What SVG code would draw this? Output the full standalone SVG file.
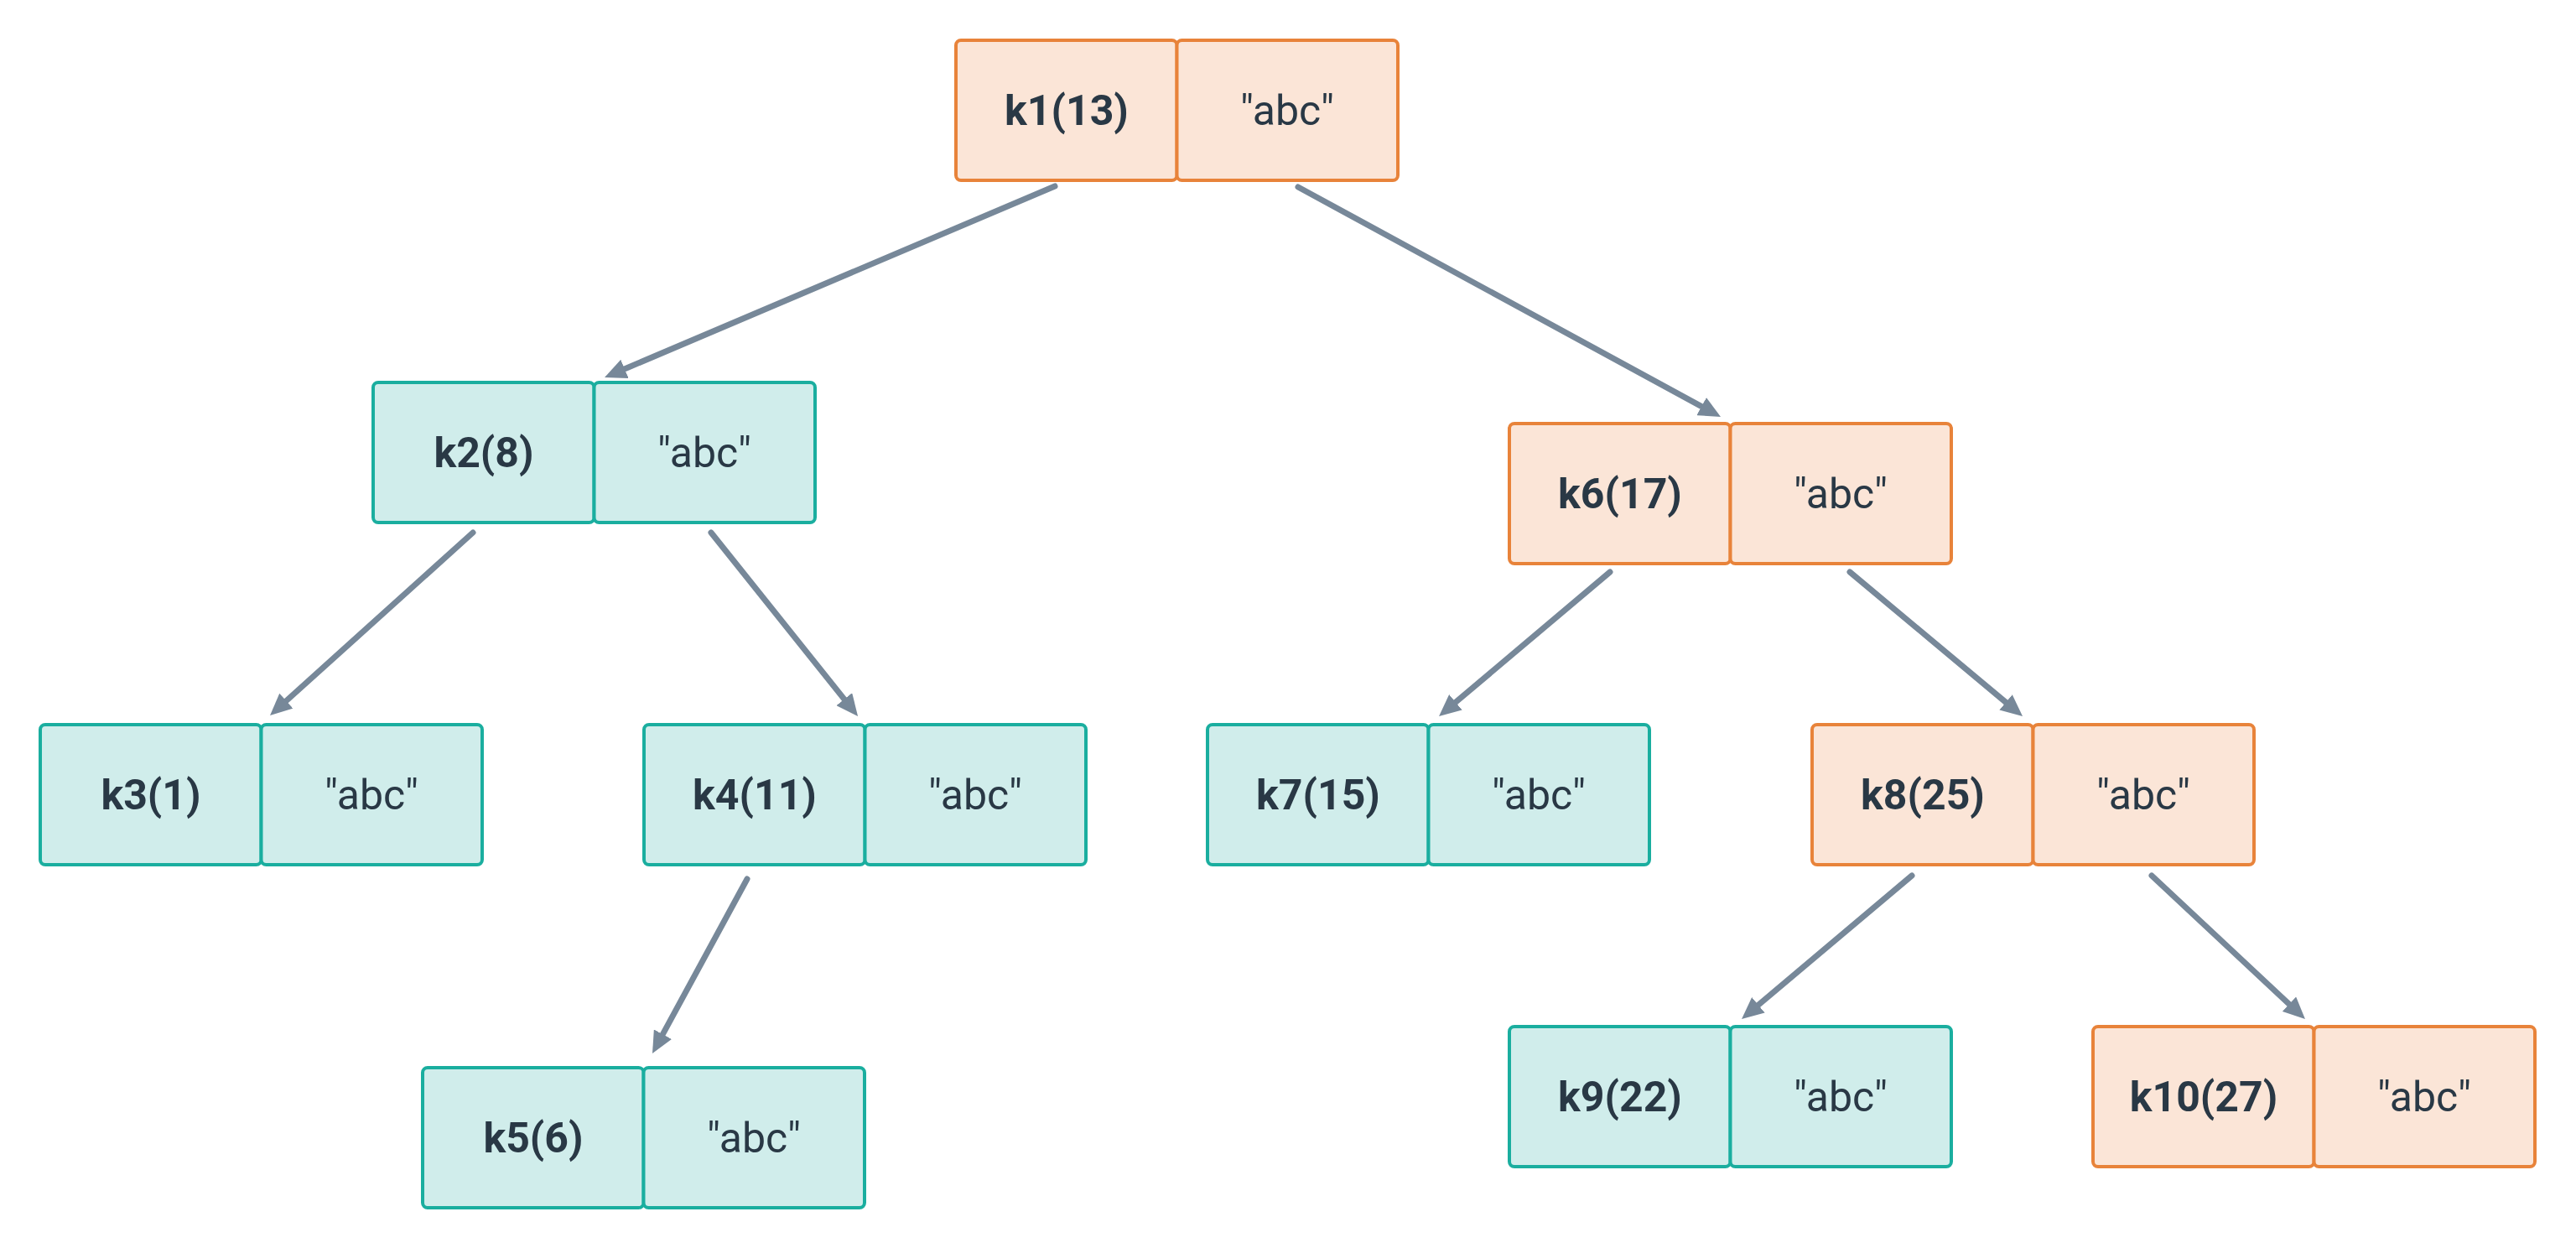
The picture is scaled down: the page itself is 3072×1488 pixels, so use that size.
<svg xmlns="http://www.w3.org/2000/svg" width="3072" height="1488" viewBox="0 0 3072 1488">
<style>
.o rect{fill:#FBE5D7;stroke:#E8833A;stroke-width:4}
.t rect{fill:#D0EDEB;stroke:#1AAE9F;stroke-width:4}
text{font-family:Roboto,"Liberation Sans",sans-serif;font-size:50px;fill:#293845;text-anchor:middle;dominant-baseline:central}
.k{font-weight:bold}
.e line{stroke:#778899;stroke-width:7;stroke-linecap:round}
</style>
<defs>
<marker id="ah" markerUnits="userSpaceOnUse" markerWidth="26" markerHeight="24" refX="8" refY="12" orient="auto">
<path d="M0,0 L26,12 L0,24 z" fill="#778899"/>
</marker>
</defs>
<rect width="3072" height="1488" fill="#fff"/>
<g class="e" id="connectors">
<line x1="1258" y1="222" x2="737.6" y2="443" marker-end="url(#ah)"/>
<line x1="1548" y1="223" x2="2036.2" y2="488.4" marker-end="url(#ah)"/>
<line x1="564" y1="635" x2="335.4" y2="841" marker-end="url(#ah)"/>
<line x1="848" y1="635" x2="1011.8" y2="839.9" marker-end="url(#ah)"/>
<line x1="891" y1="1048" x2="786.6" y2="1240.2" marker-end="url(#ah)"/>
<line x1="1920" y1="682" x2="1729.8" y2="842.4" marker-end="url(#ah)"/>
<line x1="2206" y1="682" x2="2398.2" y2="842.5" marker-end="url(#ah)"/>
<line x1="2280" y1="1044" x2="2090.8" y2="1203.4" marker-end="url(#ah)"/>
<line x1="2566" y1="1044" x2="2735.8" y2="1202.7" marker-end="url(#ah)"/>
</g>
<g id="k1" class="o" transform="translate(1140,48)"><rect width="263.5" height="167" rx="6"/><rect x="263.5" width="263.5" height="167" rx="6"/><text class="k" x="132" y="84">k1(13)</text><text x="395" y="84">"abc"</text></g>
<g id="k2" class="t" transform="translate(445,456)"><rect width="263.5" height="167" rx="6"/><rect x="263.5" width="263.5" height="167" rx="6"/><text class="k" x="132" y="84">k2(8)</text><text x="395" y="84">"abc"</text></g>
<g id="k3" class="t" transform="translate(48,864)"><rect width="263.5" height="167" rx="6"/><rect x="263.5" width="263.5" height="167" rx="6"/><text class="k" x="132" y="84">k3(1)</text><text x="395" y="84">"abc"</text></g>
<g id="k4" class="t" transform="translate(768,864)"><rect width="263.5" height="167" rx="6"/><rect x="263.5" width="263.5" height="167" rx="6"/><text class="k" x="132" y="84">k4(11)</text><text x="395" y="84">"abc"</text></g>
<g id="k5" class="t" transform="translate(504,1273)"><rect width="263.5" height="167" rx="6"/><rect x="263.5" width="263.5" height="167" rx="6"/><text class="k" x="132" y="84">k5(6)</text><text x="395" y="84">"abc"</text></g>
<g id="k6" class="o" transform="translate(1800,505)"><rect width="263.5" height="167" rx="6"/><rect x="263.5" width="263.5" height="167" rx="6"/><text class="k" x="132" y="84">k6(17)</text><text x="395" y="84">"abc"</text></g>
<g id="k7" class="t" transform="translate(1440,864)"><rect width="263.5" height="167" rx="6"/><rect x="263.5" width="263.5" height="167" rx="6"/><text class="k" x="132" y="84">k7(15)</text><text x="395" y="84">"abc"</text></g>
<g id="k8" class="o" transform="translate(2161,864)"><rect width="263.5" height="167" rx="6"/><rect x="263.5" width="263.5" height="167" rx="6"/><text class="k" x="132" y="84">k8(25)</text><text x="395" y="84">"abc"</text></g>
<g id="k9" class="t" transform="translate(1800,1224)"><rect width="263.5" height="167" rx="6"/><rect x="263.5" width="263.5" height="167" rx="6"/><text class="k" x="132" y="84">k9(22)</text><text x="395" y="84">"abc"</text></g>
<g id="k10" class="o" transform="translate(2496,1224)"><rect width="263.5" height="167" rx="6"/><rect x="263.5" width="263.5" height="167" rx="6"/><text class="k" x="132" y="84">k10(27)</text><text x="395" y="84">"abc"</text></g>
</svg>
